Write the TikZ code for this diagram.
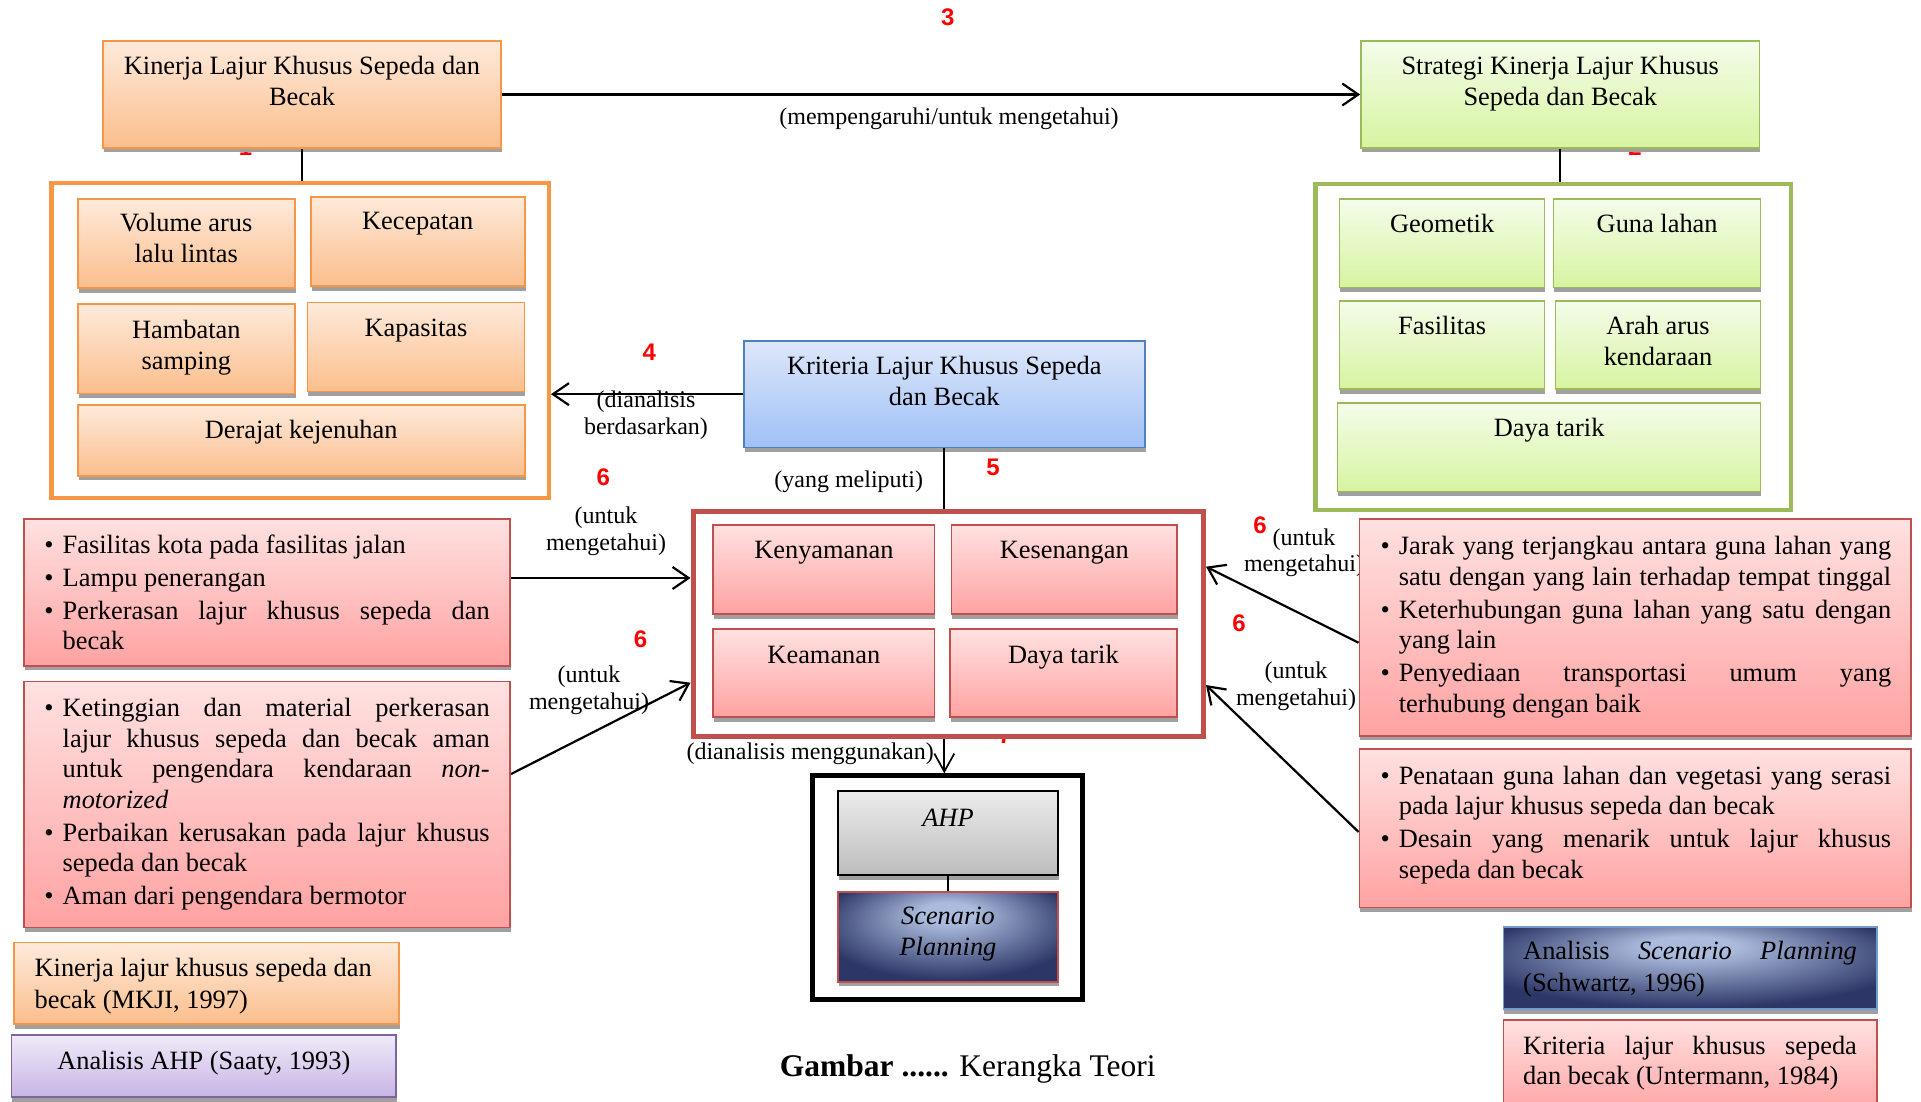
\documentclass[tikz,border=0pt]{standalone}
\usepackage{fontspec}
\setmainfont{Liberation Serif}
\newfontfamily\numfont{Liberation Sans}
\usetikzlibrary{arrows.meta,shadows}
\definecolor{orB}{HTML}{F79646}
\definecolor{orT}{HTML}{FEEADB}
\definecolor{orD}{HTML}{FBBE8C}
\definecolor{grB}{HTML}{9BBB59}
\definecolor{grT}{HTML}{F4FCEA}
\definecolor{grD}{HTML}{D7F4A0}
\definecolor{blB}{HTML}{4F81BD}
\definecolor{blT}{HTML}{DDE7FA}
\definecolor{blD}{HTML}{A0C0F6}
\definecolor{rdB}{HTML}{C0504D}
\definecolor{rdT}{HTML}{FFE1E1}
\definecolor{rdD}{HTML}{FFA2A2}
\definecolor{pbB}{HTML}{8064A2}
\definecolor{pbT}{HTML}{F0EAF9}
\definecolor{pbD}{HTML}{C7B4E4}
\definecolor{gyT}{HTML}{ECECEC}
\definecolor{gyD}{HTML}{BDBDBD}
\definecolor{spl}{HTML}{ABBBDD}
\definecolor{spd}{HTML}{2D3767}
\definecolor{shd}{HTML}{A0A0A0}
\definecolor{numred}{HTML}{FF0000}
\pgfdeclareradialshading{spshade}{\pgfpoint{0bp}{15bp}}{color(0bp)=(spl);color(6bp)=(spl);color(30bp)=(spd);color(50bp)=(spd)}
\newcommand{\bul}{\makebox[0pt][r]{\textbullet\hspace{9pt}}}
\newcommand{\jus}[1]{\makebox[\linewidth][s]{#1}}
\tikzset{
 sh/.style={drop shadow={shadow xshift=0.8pt,shadow yshift=-4.5pt,fill=shd,opacity=1}},
 obox/.style={rectangle,draw=orB,line width=1.6pt,top color=orT,bottom color=orD,sh},
 gbox/.style={rectangle,draw=grB,line width=1.6pt,top color=grT,bottom color=grD,sh},
 bbox/.style={rectangle,draw=blB,line width=1.6pt,top color=blT,bottom color=blD,sh},
 rbox/.style={rectangle,draw=rdB,line width=1.6pt,top color=rdT,bottom color=rdD,sh},
 pbox/.style={rectangle,draw=pbB,line width=1.6pt,top color=pbT,bottom color=pbD,sh},
 ahpbox/.style={rectangle,draw=black,line width=2.2pt,top color=gyT,bottom color=gyD,sh},
 spbox/.style={rectangle,draw=rdB,line width=2pt,shading=spshade,sh},
 lgblue/.style={rectangle,draw=blB!80,line width=1.6pt,shading=spshade,sh},
 cont/.style={rectangle,fill=white,line width=4.5pt},
 bt/.style={inner sep=0pt,anchor=base,font=\fontsize{26.4}{31}\selectfont},
 bl/.style={inner sep=0pt,anchor=base west,font=\fontsize{26.4}{30.5}\selectfont},
 lt/.style={inner sep=0pt,anchor=base,font=\fontsize{24}{26.5}\selectfont},
 num/.style={inner sep=0pt,anchor=base,text=numred,font=\numfont\bfseries\fontsize{24}{26}\selectfont},
 arr/.style={line width=2.2pt,-{Straight Barb[length=16pt,width=22pt,line width=2.2pt]}},
 ln/.style={line width=1.8pt},
}
\begin{document}
\begin{tikzpicture}[x=1pt,y=-1pt]
\useasboundingbox (0,0) rectangle (1921,1102);
\clip (0,0) rectangle (1921,1102);
\fill[white] (0,0) rectangle (1921,1102);
% partly hidden numbers
\node[num] (n1) at (245.5,155.5) {1};
\node[num] (n2) at (1635,155.5) {2};
\node[num] (n7) at (1005,743) {7};
% labels
\node[lt] (lab3) at (949,124.5) {(mempengaruhi/untuk mengetahui)};
\node[lt] (lab4) at (646,407.7) {\parbox[t]{160pt}{\centering (dianalisis\\berdasarkan)}};
\node[lt] (lab5) at (848.7,487) {(yang meliputi)};
\node[lt] (lab6a) at (606,523.5) {\parbox[t]{160pt}{\centering (untuk\\mengetahui)}};
\node[lt] (lab6b) at (589,682.7) {\parbox[t]{160pt}{\centering (untuk\\mengetahui)}};
\node[lt] (lab6c) at (1304,545) {\parbox[t]{160pt}{\centering (untuk\\mengetahui)}};
\node[lt] (lab6d) at (1296,678.7) {\parbox[t]{160pt}{\centering (untuk\\mengetahui)}};
\node[lt,anchor=base east] (lab7) at (934,759) {(dianalisis menggunakan)};
% containers
\node[cont,draw=orB,minimum width=497.5pt,minimum height=314.5pt] (oc) at (300,340.5) {};
\node[cont,draw=grB,minimum width=475.5pt,minimum height=325.5pt] (gc) at (1553,347) {};
\node[cont,draw=rdB,line width=5pt,minimum width=510.5pt,minimum height=225pt] (rc) at (948.25,623.5) {};
\node[cont,draw=black,line width=5pt,minimum width=270pt,minimum height=223.4pt] (bb) at (947.5,887.5) {};
% boxes
\node[obox,minimum width=398pt,minimum height=107pt] (k1) at (302,94.5) {};
\node[gbox,minimum width=398.5pt,minimum height=107pt] (s1) at (1560.25,94.5) {};
\node[obox,minimum width=217pt,minimum height=89pt] (o1) at (186.25,243.75) {};
\node[obox,minimum width=214pt,minimum height=89.5pt] (o2) at (417.7,241.5) {};
\node[obox,minimum width=217pt,minimum height=89.5pt] (o3) at (186.25,348.9) {};
\node[obox,minimum width=217pt,minimum height=89pt] (o4) at (416,347) {};
\node[obox,minimum width=447pt,minimum height=71pt] (o5) at (301.2,440.35) {};
\node[gbox,minimum width=205pt,minimum height=88.5pt] (g1) at (1442.15,243.3) {};
\node[gbox,minimum width=207pt,minimum height=88.5pt] (g2) at (1657.15,243.3) {};
\node[gbox,minimum width=205pt,minimum height=88.5pt] (g3) at (1442.15,345) {};
\node[gbox,minimum width=205pt,minimum height=88.5pt] (g4) at (1658,345) {};
\node[gbox,minimum width=423pt,minimum height=88.5pt] (g5) at (1549.1,447.3) {};
\node[bbox,minimum width=401pt,minimum height=106.5pt] (kr) at (944.3,394.15) {};
\node[rbox,minimum width=221.5pt,minimum height=89.5pt] (r1) at (823.9,569.5) {};
\node[rbox,minimum width=225.5pt,minimum height=89.5pt] (r2) at (1064.25,569.5) {};
\node[rbox,minimum width=221.5pt,minimum height=88.5pt] (r3) at (823.9,673) {};
\node[rbox,minimum width=227pt,minimum height=88.5pt] (r4) at (1063.4,673) {};
\node[rbox,minimum width=486.5pt,minimum height=147pt] (L1) at (267,592.35) {};
\node[rbox,minimum width=486.5pt,minimum height=246pt] (L2) at (267,804.5) {};
\node[rbox,minimum width=551.5pt,minimum height=216.8pt] (R1) at (1635.15,627.5) {};
\node[rbox,minimum width=551.5pt,minimum height=158.5pt] (R2) at (1635.15,828.3) {};
\node[ahpbox,minimum width=220.5pt,minimum height=84pt] (ahp) at (948,833) {};
\node[spbox,minimum width=220.5pt,minimum height=90pt] (sp) at (948,936.7) {};
\node[obox,minimum width=385pt,minimum height=81.7pt] (lg1) at (206.2,983.35) {};
\node[pbox,minimum width=384.7pt,minimum height=62.4pt] (lg2) at (203.85,1066) {};
\node[lgblue,minimum width=373.4pt,minimum height=82.4pt] (lg3) at (1690.2,968) {};
\node[rbox,minimum width=373.4pt,minimum height=95pt] (lg4) at (1690.2,1067.5) {};
% box texts
\node[bt] (k1t) at (302,74.8) {\parbox[t]{390pt}{\centering Kinerja Lajur Khusus Sepeda dan\\Becak}};
\node[bt] (s1t) at (1560.25,74.8) {\parbox[t]{390pt}{\centering Strategi Kinerja Lajur Khusus\\Sepeda dan Becak}};
\node[bt] (o1t) at (186.25,231.5) {\parbox[t]{210pt}{\centering Volume arus\\lalu lintas}};
\node[bt] (o2t) at (417.7,229.8) {Kecepatan};
\node[bt] (o3t) at (186.25,338.2) {\parbox[t]{210pt}{\centering Hambatan\\samping}};
\node[bt] (o4t) at (416,336.5) {Kapasitas};
\node[bt] (o5t) at (301.2,438.2) {Derajat kejenuhan};
\node[bt] (g1t) at (1442.15,232.5) {Geometik};
\node[bt] (g2t) at (1657.15,232.5) {Guna lahan};
\node[bt] (g3t) at (1442.15,334.8) {Fasilitas};
\node[bt] (g4t) at (1658,334.8) {\parbox[t]{200pt}{\centering Arah arus\\kendaraan}};
\node[bt] (g5t) at (1549.1,436.5) {Daya tarik};
\node[bt] (krt) at (944.3,374.2) {\parbox[t]{390pt}{\centering Kriteria Lajur Khusus Sepeda\\dan Becak}};
\node[bt] (r1t) at (823.9,558.2) {Kenyamanan};
\node[bt] (r2t) at (1064.25,558.2) {Kesenangan};
\node[bt] (r3t) at (823.9,663.2) {Keamanan};
\node[bt] (r4t) at (1063.4,663.2) {Daya tarik};
\node[bt] (ahpt) at (948,826) {\textit{AHP}};
\node[bt] (spt) at (948,924.5) {\parbox[t]{210pt}{\centering\itshape Scenario\\Planning}};
\node[bl] (L1t) at (62.5,553.2) {\parbox[t]{427pt}{%
\bul Fasilitas kota pada fasilitas jalan\\[2.5pt]
\bul Lampu penerangan\\[2.5pt]
\bul\jus{Perkerasan lajur khusus sepeda dan}\\
becak}};
\node[bl] (L2t) at (62.5,716.5) {\parbox[t]{427pt}{%
\bul\jus{Ketinggian dan material perkerasan}\\
\jus{lajur khusus sepeda dan becak aman}\\
\jus{untuk pengendara kendaraan \textit{non-}}\\
\textit{motorized}\\[2.5pt]
\bul\jus{Perbaikan kerusakan pada lajur khusus}\\
sepeda dan becak\\[2.5pt]
\bul Aman dari pengendara bermotor}};
\node[bl] (R1t) at (1398.6,554.5) {\parbox[t]{492.4pt}{%
\bul\jus{Jarak yang terjangkau antara guna lahan yang}\\
\jus{satu dengan yang lain terhadap tempat tinggal}\\[2.5pt]
\bul\jus{Keterhubungan guna lahan yang satu dengan}\\
yang lain\\[2.5pt]
\bul\jus{Penyediaan transportasi umum yang}\\
terhubung dengan baik}};
\node[bl] (R2t) at (1398.6,784.2) {\parbox[t]{492.4pt}{%
\bul\jus{Penataan guna lahan dan vegetasi yang serasi}\\
pada lajur khusus sepeda dan becak\\[2.5pt]
\bul\jus{Desain yang menarik untuk lajur khusus}\\
sepeda dan becak}};
\node[bl,font=\fontsize{26.4}{31.7}\selectfont] (lg1t) at (34.4,976.5) {\parbox[t]{360pt}{Kinerja lajur khusus sepeda dan\\becak (MKJI, 1997)}};
\node[bt] (lg2t) at (203.85,1069.5) {Analisis AHP (Saaty, 1993)};
\node[bl,font=\fontsize{26.4}{31.7}\selectfont] (lg3t) at (1523,959.8) {\parbox[t]{333.7pt}{\jus{Analisis \textit{Scenario} \textit{Planning}}\\(Schwartz, 1996)}};
\node[bl,font=\fontsize{26.4}{30}\selectfont] (lg4t) at (1523,1054.8) {\parbox[t]{333.7pt}{\jus{Kriteria lajur khusus sepeda}\\dan becak (Untermann, 1984)}};
\node[inner sep=0pt,anchor=base,font=\fontsize{31.5}{36}\selectfont] (cap) at (967.8,1076) {\textbf{Gambar ......} Kerangka Teori};
% connectors
\draw[arr] (k1.east) -- (s1.west);
\draw[ln] (k1.south) -- (k1.south |- oc.north);
\draw[ln] (s1.south) -- (s1.south |- gc.north);
\draw[arr] (kr.west) -- (kr.west -| oc.east);
\draw[ln] (kr.south) -- (kr.south |- rc.north);
\draw[arr] ([yshift=14.35pt]L1.east) -- ([yshift=45.5pt]rc.west);
\draw[arr] ([yshift=30.5pt]L2.east) -- ([yshift=-59.2pt]rc.west);
\draw[arr] ([yshift=-15.2pt]R1.west) -- ([yshift=56.8pt]rc.east);
\draw[arr] ([yshift=-3.7pt]R2.west) -- ([yshift=-61.5pt]rc.east);
\draw[line width=1.7pt,-{Straight Barb[length=18pt,width=20pt,line width=1.7pt]}] (kr.south |- rc.south) -- (kr.south |- bb.north);
\draw[ln] (ahp.south) -- (sp.north);
% numbers
\node[num] (n3) at (947.8,26) {3};
\node[num] (n4) at (649.3,360.7) {4};
\node[num] (n5) at (993,475.3) {5};
\node[num] (n6a) at (603.3,485) {6};
\node[num] (n6b) at (640.6,647) {6};
\node[num] (n6c) at (1260,533.6) {6};
\node[num] (n6d) at (1239,631.3) {6};
\end{tikzpicture}
\end{document}
